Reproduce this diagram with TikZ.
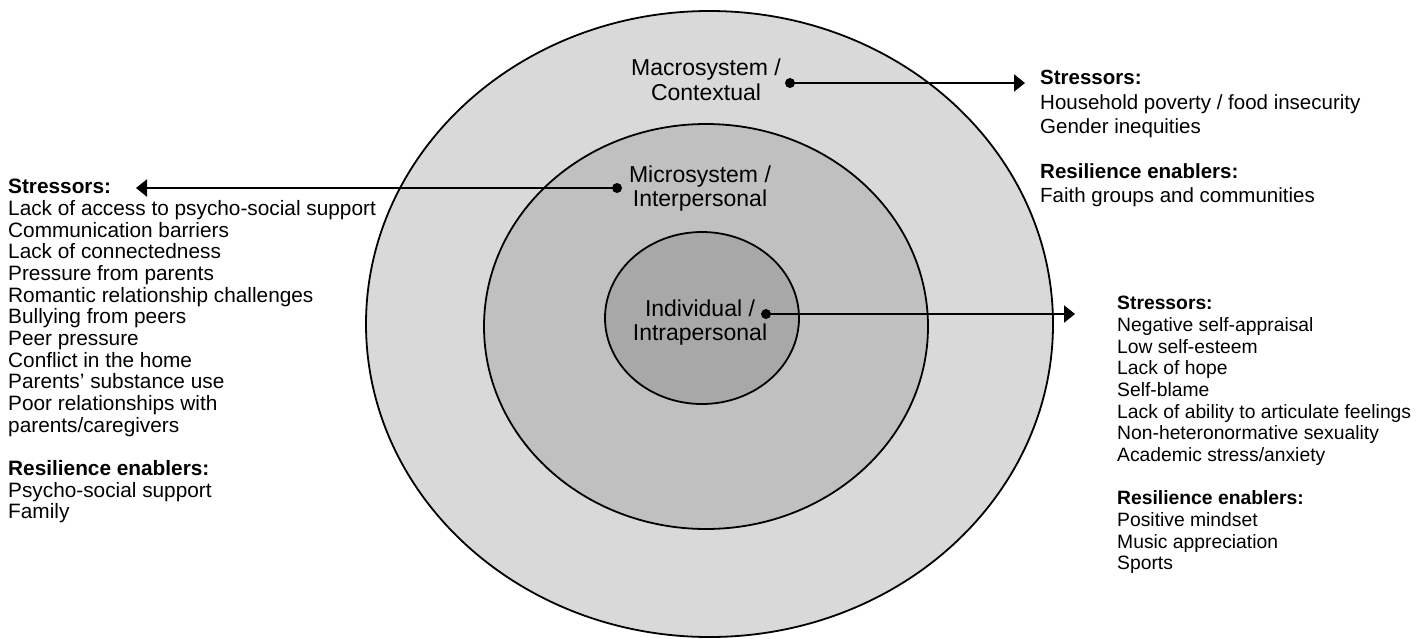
\documentclass[tikz,border=0pt]{standalone}
\usepackage{fontspec}
\setmainfont{Liberation Sans}
\usetikzlibrary{arrows.meta}
\definecolor{outerfill}{HTML}{D9D9D9}
\definecolor{midfill}{HTML}{C0C0C0}
\definecolor{innerfill}{HTML}{A8A8A8}
\tikzset{
  ring/.style={draw=black, line width=1.8pt},
  lbl/.style={align=center, inner sep=0pt, font=\fontsize{23}{24.5}\selectfont},
  listblock/.style={align=left, anchor=north west, inner sep=0pt},
  dot/.style={circle, fill=black, inner sep=0pt, minimum size=10pt},
  conn/.style={line width=2pt, -{Triangle[length=11pt,width=17pt]}},
}
\begin{document}
\begin{tikzpicture}[x=1pt,y=-1pt]
\useasboundingbox (0,0) rectangle (1419,638);
\draw[ring, fill=outerfill] (709.5,324) ellipse [x radius=343.5pt, y radius=313pt];
\draw[ring, fill=midfill] (706,326.5) ellipse [x radius=222pt, y radius=202.5pt];
\draw[ring, fill=innerfill] (702,318) ellipse [x radius=97pt, y radius=86pt];

\node[lbl] (macro) at (706,80) {Macrosystem /\\Contextual};
\node[lbl] (micro) at (700,188.5) {Microsystem /\\Interpersonal};
\node[lbl] (indiv) at (700,322.5) {Individual /\\Intrapersonal};

\node[listblock, font=\fontsize{20.5}{24.5}\selectfont] (macrolist) at (1040,70) {\textbf{Stressors:}\\Household poverty / food insecurity\\Gender inequities\\[20pt]\textbf{Resilience enablers:}\\Faith groups and communities};
\node[listblock, font=\fontsize{20.8}{21.67}\selectfont] (microlist) at (8,179) {\textbf{Stressors:}\\Lack of access to psycho-social support\\Communication barriers\\Lack of connectedness\\Pressure from parents\\Romantic relationship challenges\\Bullying from peers\\Peer pressure\\Conflict in the home\\Parents’ substance use\\Poor relationships with\\parents/caregivers\\[21.67pt]\textbf{Resilience enablers:}\\Psycho-social support\\Family};
\node[listblock, font=\fontsize{19.3}{21.67}\selectfont] (indivlist) at (1117,296) {\textbf{Stressors:}\\Negative self-appraisal\\Low self-esteem\\Lack of hope\\Self-blame\\Lack of ability to articulate feelings\\Non-heteronormative sexuality\\Academic stress/anxiety\\[21.67pt]\textbf{Resilience enablers:}\\Positive mindset\\Music appreciation\\Sports};

\node[dot] (d1) at (790,83) {};
\coordinate (e1) at (1025,83);
\node[dot] (d2) at (617,188) {};
\coordinate (e2) at (136,188);
\node[dot] (d3) at (766,314) {};
\coordinate (e3) at (1075,314);
\draw[conn] (d1.center) -- (e1);
\draw[conn] (d2.center) -- (e2);
\draw[conn] (d3.center) -- (e3);
\end{tikzpicture}
\end{document}
